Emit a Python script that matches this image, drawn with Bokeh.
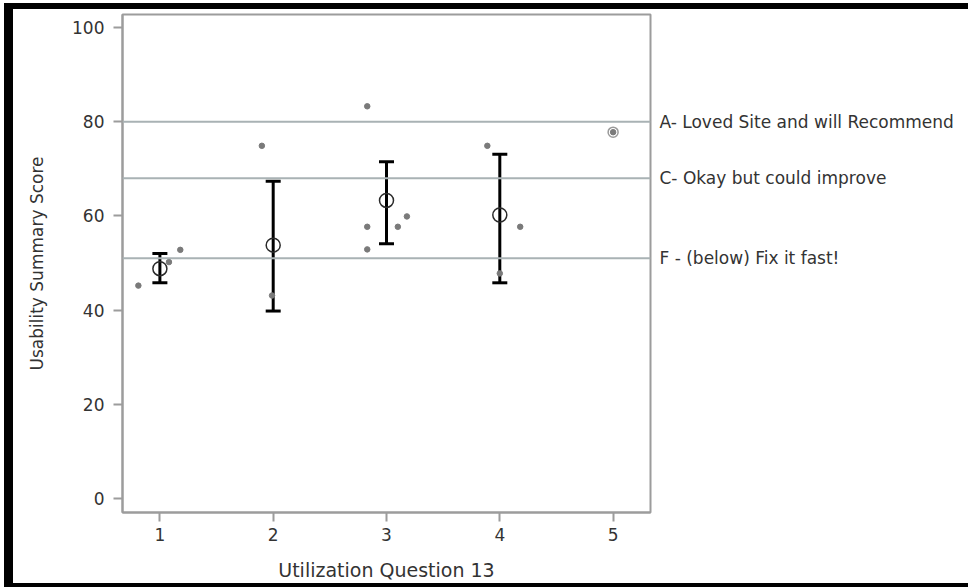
from bokeh.plotting import figure
from bokeh.models import (ColumnDataSource, Whisker, TeeHead, Span, FixedTicker, Range1d,
                          LinearAxis)
from bokeh.embed import file_html
from bokeh.resources import INLINE

# ---- data ----
groups = [1, 2, 3, 4, 5]
means = [48.8, 53.8, 63.3, 60.2, 77.8]
ci_groups = [1, 2, 3, 4]
ci_lower = [45.8, 39.8, 54.1, 45.8]
ci_upper = [52.0, 67.4, 71.5, 73.1]
point_x = [0.81, 1.08, 1.18, 1.90, 1.99, 2.83, 2.83, 2.83, 3.10, 3.18, 3.89, 4.00, 4.18, 5.00]
point_y = [45.2, 50.2, 52.8, 74.9, 43.1, 83.3, 57.7, 52.9, 57.7, 59.9, 74.9, 47.8, 57.7, 77.8]
ref_values = [80, 68, 51]
ref_labels = ["A- Loved Site and will Recommend", "C- Okay but could improve", "F - (below) Fix it fast!"]
y_ticks = [0, 20, 40, 60, 80, 100]
x_ticks = [1, 2, 3, 4, 5]

FONT = "DejaVu Sans"
TXT = "#333333"
FRAME = "#9c9c9c"
REF = "#a9b2b4"

p = figure(frame_width=528, frame_height=498,
           min_border_left=109, min_border_right=318, min_border_top=5, min_border_bottom=71,
           x_range=Range1d(0.67, 5.33), y_range=Range1d(-3.0, 102.8),
           output_backend="svg", toolbar_location=None)
p.styles = {"margin-left": "4px", "margin-top": "3px",
            "border-left": "9px solid black", "border-top": "6px solid black",
            "border-bottom": "4px solid black"}

p.grid.visible = False
p.outline_line_color = FRAME
p.outline_line_width = 2
p.background_fill_color = "white"
p.border_fill_color = "white"

for ax in (p.xaxis[0], p.yaxis[0]):
    ax.axis_line_color = FRAME
    ax.axis_line_width = 2
    ax.major_tick_line_color = FRAME
    ax.major_tick_line_width = 2
    ax.major_tick_in = 0
    ax.major_tick_out = 9
    ax.minor_tick_line_color = None
    ax.major_label_text_font = FONT
    ax.major_label_text_font_size = "17px"
    ax.major_label_text_color = TXT
    ax.axis_label_text_font = FONT
    ax.axis_label_text_font_style = "normal"
    ax.axis_label_text_color = TXT

p.xaxis.ticker = FixedTicker(ticks=x_ticks)
p.yaxis.ticker = FixedTicker(ticks=y_ticks)
p.xaxis.axis_label = "Utilization Question 13"
p.yaxis.axis_label = "Usability Summary Score"
p.xaxis.axis_label_text_font_size = "19px"
p.yaxis.axis_label_text_font_size = "17px"
p.xaxis.major_label_standoff = 6
p.xaxis.axis_label_standoff = 15
p.yaxis.major_label_standoff = 9
p.yaxis.axis_label_standoff = 22

# reference lines
for v in ref_values:
    p.add_layout(Span(location=v, dimension="width", line_color=REF, line_width=2))

# reference labels on the right side
ref_axis = LinearAxis(ticker=FixedTicker(ticks=ref_values),
                      major_label_overrides={v: t for v, t in zip(ref_values, ref_labels)})
ref_axis.axis_line_color = None
ref_axis.major_tick_line_color = None
ref_axis.minor_tick_line_color = None
ref_axis.major_tick_out = 0
ref_axis.major_tick_in = 0
ref_axis.major_label_standoff = 9
ref_axis.major_label_text_font = FONT
ref_axis.major_label_text_font_size = "17px"
ref_axis.major_label_text_color = TXT
p.add_layout(ref_axis, "right")

# jittered observations
p.scatter(point_x, point_y, size=5.5, color="#7a7a7a")

# confidence intervals
ci_src = ColumnDataSource(dict(x=ci_groups, lo=ci_lower, hi=ci_upper, m=means[:4]))
w = Whisker(source=ci_src, base="x", lower="lo", upper="hi", dimension="height",
            line_color="black", line_width=3,
            upper_head=TeeHead(size=15, line_color="black", line_width=3),
            lower_head=TeeHead(size=15, line_color="black", line_width=3))
p.add_layout(w)

# means
p.scatter("x", "m", source=ci_src, size=14, fill_color=None, line_color="#2a2a2a", line_width=1.5)
p.scatter(groups[4:], means[4:], size=10, fill_color=None, line_color="#9a9a9a", line_width=1.5)

open("out.html", "w").write(file_html(p, INLINE))
